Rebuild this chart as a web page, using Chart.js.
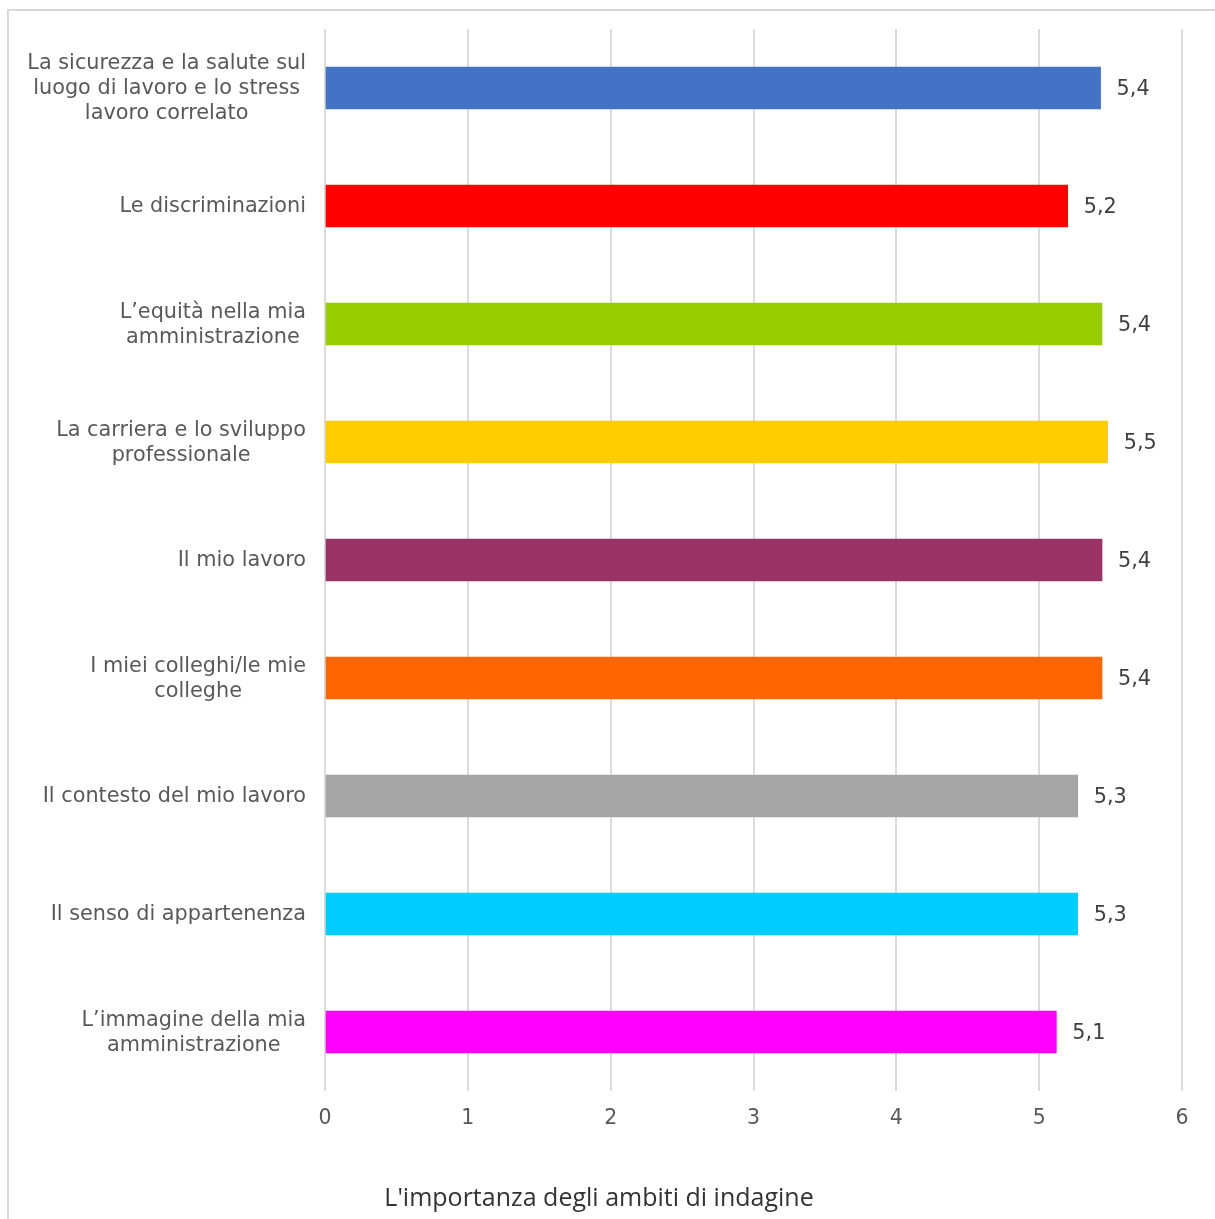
<!DOCTYPE html>
<html>
<head>
<meta charset="utf-8">
<script src="https://cdn.jsdelivr.net/npm/chart.js@4/dist/chart.umd.min.js"></script>
<style>
html,body{margin:0;padding:0;background:#fff;}
#wrap{position:relative;width:1215px;height:1219px;}
</style>
</head>
<body>
<div id="wrap"><canvas id="c" width="1215" height="1219"></canvas></div>
<script>
const categories = [
  ["La sicurezza e la salute sul", "luogo di lavoro e lo stress", "lavoro correlato"],
  ["Le discriminazioni"],
  ["L’equità nella mia", "amministrazione"],
  ["La carriera e lo sviluppo", "professionale"],
  ["Il mio lavoro"],
  ["I miei colleghi/le mie", "colleghe"],
  ["Il contesto del mio lavoro"],
  ["Il senso di appartenenza"],
  ["L’immagine della mia", "amministrazione"]
];
const values = [5.43, 5.20, 5.44, 5.48, 5.44, 5.44, 5.27, 5.27, 5.12];
const barColors = ["#4472C4", "#FF0000", "#99CC00", "#FFCC00", "#993366", "#FF6600", "#A5A5A5", "#00CCFF", "#FF00FF"];
const xTicks = [0, 1, 2, 3, 4, 5, 6];
const axisTitle = "L'importanza degli ambiti di indagine";

const LABEL_FONT = "20.8px 'DejaVu Sans'";

const decor = {
  id: 'decor',
  beforeDraw(chart) {
    const ctx = chart.ctx;
    ctx.save();
    ctx.strokeStyle = '#d9d9d9';
    ctx.lineWidth = 2;
    ctx.strokeRect(8, 10, 1230, 1240);
    ctx.restore();
  },
  afterDraw(chart) {
    const ctx = chart.ctx;
    const y = chart.scales.y;
    ctx.save();
    ctx.font = LABEL_FONT;
    ctx.fillStyle = '#595959';
    ctx.textBaseline = 'middle';
    ctx.textAlign = 'center';
    const right = 306;
    const lh = 25;
    categories.forEach((lines, i) => {
      const cy = y.getPixelForValue(i) + 1;
      let maxW = 0;
      lines.forEach(l => { maxW = Math.max(maxW, ctx.measureText(l).width); });
      const cx = right - maxW / 2;
      const y0 = cy - (lines.length - 1) * lh / 2;
      lines.forEach((l, k) => ctx.fillText(l, cx, y0 + k * lh));
    });
    // data labels
    ctx.fillStyle = '#404040';
    ctx.textAlign = 'left';
    const meta = chart.getDatasetMeta(0);
    meta.data.forEach((bar, i) => {
      ctx.fillText(values[i].toFixed(1).replace('.', ','), bar.x + 16, bar.y + 2);
    });
    // axis title
    ctx.font = "25px 'Open Sans'";
    ctx.fillStyle = '#333333';
    ctx.textAlign = 'center';
    ctx.fillText(axisTitle, 599, 1199);
    ctx.restore();
  }
};

new Chart(document.getElementById('c'), {
  type: 'bar',
  data: {
    labels: categories.map(l => l.join(' ')),
    datasets: [{
      data: values,
      backgroundColor: barColors,
      borderWidth: 0,
      barThickness: 42
    }]
  },
  options: {
    indexAxis: 'y',
    responsive: false,
    animation: false,
    devicePixelRatio: 1,
    layout: { padding: { left: 325, right: 33, top: 29, bottom: 0 } },
    plugins: { legend: { display: false }, tooltip: { enabled: false }, title: { display: false } },
    scales: {
      y: { display: false },
      x: {
        min: 0, max: 6,
        afterBuildTicks(scale) { scale.ticks = xTicks.map(v => ({ value: v })); },
        afterFit(scale) { scale.height = 128; },
        grid: { color: '#dcdcdc', lineWidth: 2, drawTicks: false },
        border: { display: false },
        ticks: { color: '#595959', font: { family: 'DejaVu Sans', size: 20.5 }, padding: 15 }
      }
    }
  },
  plugins: [decor]
});
</script>
</body>
</html>
